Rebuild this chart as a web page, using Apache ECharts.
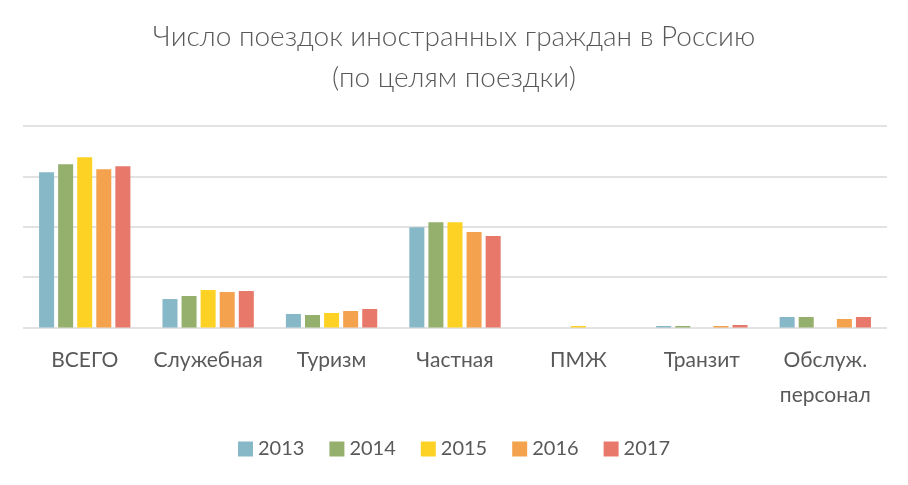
<!DOCTYPE html>
<html>
<head>
<meta charset="utf-8">
<script src="https://cdn.jsdelivr.net/npm/echarts@6/dist/echarts.min.js"></script>
<style>html,body{margin:0;padding:0;background:#fff}#c{width:908px;height:485px}</style>
</head>
<body>
<div id="c"></div>
<script>
const categories = ['ВСЕГО', 'Служебная', 'Туризм', 'Частная', 'ПМЖ', 'Транзит', 'Обслуж.\nперсонал'];
const years = ['2013', '2014', '2015', '2016', '2017'];
const s2013 = [30.8, 5.65, 2.68, 19.9, 0, 0.3, 2.08];
const s2014 = [32.4, 6.25, 2.48, 20.9, 0, 0.3, 2.08];
const s2015 = [33.8, 7.44, 2.88, 20.9, 0.3, 0, 0];
const s2016 = [31.4, 7.04, 3.27, 18.95, 0, 0.3, 1.69];
const s2017 = [32.0, 7.24, 3.67, 18.15, 0, 0.5, 2.08];
const seriesData = [s2013, s2014, s2015, s2016, s2017];
const colors = ['#87b8c8', '#95b06d', '#fdd225', '#f4a24e', '#e8796a'];
const yTicks = [0, 10, 20, 30, 40];

const font = 'Lato, "Open Sans", sans-serif';
const chart = echarts.init(document.getElementById('c'), null, {renderer: 'canvas'});
chart.setOption({
  animation: false,
  color: colors,
  title: {
    text: 'Число поездок иностранных граждан в Россию\n(по целям поездки)',
    left: 'center',
    top: 11,
    textStyle: {fontFamily: font, fontSize: 28, fontWeight: 300, color: '#595959', lineHeight: 41}
  },
  legend: {
    bottom: 21,
    left: 'center',
    itemWidth: 15,
    itemHeight: 15,
    itemGap: 25,
    icon: 'rect',
    textStyle: {fontFamily: font, fontSize: 20, color: '#595959'},
    data: years
  },
  grid: {left: 23, right: 21, top: 126, bottom: 157.5, containLabel: false},
  xAxis: {
    type: 'category',
    data: categories,
    axisLine: {show: false},
    axisTick: {show: false},
    axisLabel: {fontFamily: font, fontSize: 21, color: '#595959', margin: 15, lineHeight: 35, interval: 0}
  },
  yAxis: {
    type: 'value',
    min: yTicks[0],
    max: yTicks[yTicks.length - 1],
    interval: 10,
    axisLabel: {show: false},
    axisLine: {show: false},
    axisTick: {show: false},
    splitLine: {lineStyle: {color: '#d9d9d9', width: 1.7}}
  },
  series: years.map((y, i) => ({
    name: y,
    type: 'bar',
    data: seriesData[i],
    barGap: '27%',
    barCategoryGap: '26%'
  }))
});
</script>
</body>
</html>
